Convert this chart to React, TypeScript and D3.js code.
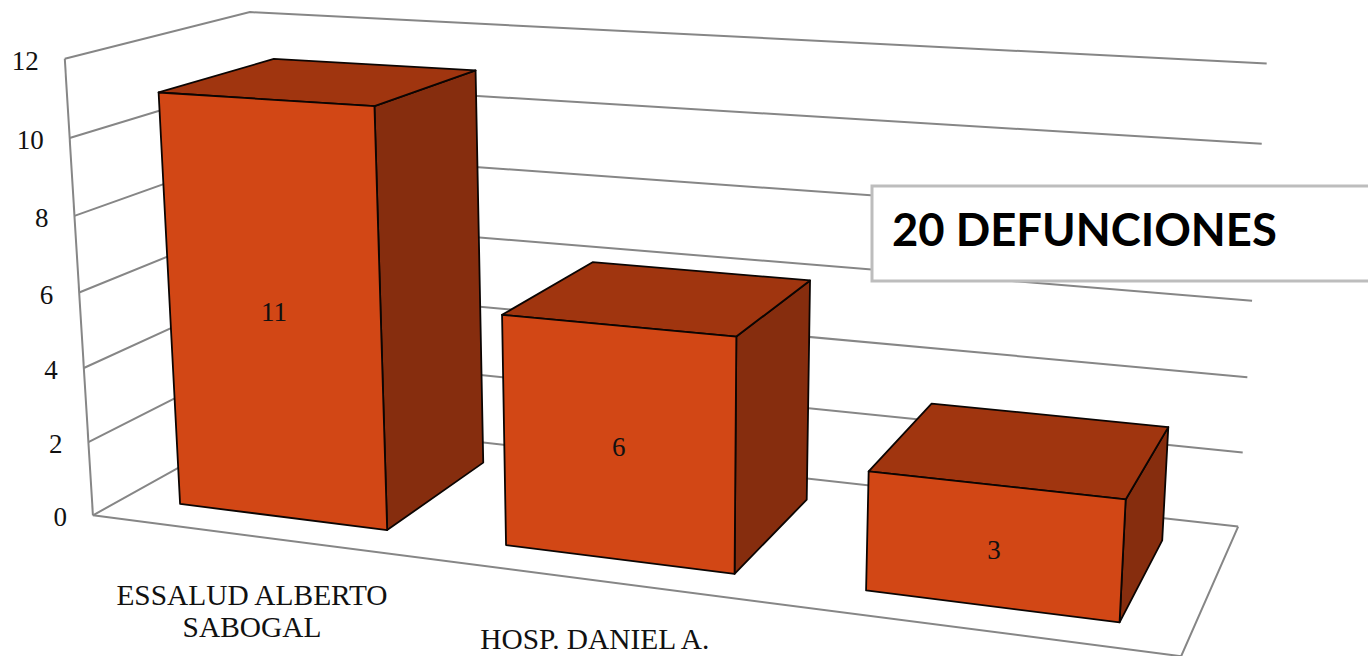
import React from "react";
import * as d3 from "d3";

const W = 1368, H = 656;

// Data
const categories = ["ESSALUD ALBERTO|SABOGAL", "HOSP. DANIEL A.", ""];
const values = [11, 6, 3];
const valueTicks = [0, 2, 4, 6, 8, 10, 12];
const boxLabel = "20 DEFUNCIONES";

// Camera calibration: (u across, v depth, t height) -> picture point
const calibration: number[][] = [
  [0, 0, 0, 93, 516], [0, 0, 1, 64, 60], [0, 0, 0.5, 80, 290],
  [0, 1, 0, 267, 419], [0, 1, 1, 250, 12],
  [1, 1, 0, 1238, 526], [1, 1, 1, 1267, 64], [1, 1, 0.5, 1252, 300],
  [1, 0, 0, 1181, 657],
];

function solve(A: number[][], b: number[]) {
  const n = b.length;
  const M = A.map((r, i) => [...r, b[i]]);
  for (let c = 0; c < n; c++) {
    let p = c;
    for (let r = c + 1; r < n; r++) if (Math.abs(M[r][c]) > Math.abs(M[p][c])) p = r;
    [M[c], M[p]] = [M[p], M[c]];
    for (let r = 0; r < n; r++) {
      if (r === c) continue;
      const f = M[r][c] / M[c][c];
      for (let k = c; k <= n; k++) M[r][k] -= f * M[c][k];
    }
  }
  return M.map((r, i) => r[n] / r[i]);
}

function fitCamera(pts: number[][]) {
  const rows: number[][] = [], rhs: number[] = [];
  const S = 1000;
  for (const [u, v, t, x0, y0] of pts) {
    const x = x0 / S, y = y0 / S;
    rows.push([u, v, t, 1, 0, 0, 0, 0, -x * u, -x * v, -x * t]); rhs.push(x);
    rows.push([0, 0, 0, 0, u, v, t, 1, -y * u, -y * v, -y * t]); rhs.push(y);
  }
  const n = 11;
  const AtA = d3.range(n).map(i => d3.range(n).map(j => d3.sum(rows, r => r[i] * r[j])));
  const Atb = d3.range(n).map(i => d3.sum(rows, (r, k) => r[i] * rhs[k]));
  const p = solve(AtA, Atb);
  return (u: number, v: number, t: number): [number, number] => {
    const w = p[8] * u + p[9] * v + p[10] * t + 1;
    return [
      (S * (p[0] * u + p[1] * v + p[2] * t + p[3])) / w,
      (S * (p[4] * u + p[5] * v + p[6] * t + p[7])) / w,
    ];
  };
}

const project = fitCamera(calibration);
const uScale = d3.scaleBand<string>().domain(categories).range([0, 1]).paddingInner(0.3535).paddingOuter(0.17675);
const tScale = d3.scaleLinear().domain([0, 12]).range([0, 1]);
const vFront = 0.17, vBack = 0.815;

const line = d3.line<[number, number]>();
const poly = (pts: [number, number][]) => line(pts)! + "Z";

const GRID = "#868686";
const EDGE = "#0b0503";
const FRONT = "#D24715";
const TOP = "#A0350F";
const SIDE = "#862D0E";
const SERIF = "'Liberation Serif', serif";

export default function App() {
  const grid = valueTicks.map(tick => {
    const t = tScale(tick);
    return line([project(0, 0, t), project(0, 1, t), project(1, 1, t)])!;
  });
  const floorEdge = line([project(0, 0, 0), project(1, 0, 0), project(1, 1, 0)])!;
  const axisEdge = line([project(0, 0, 0), project(0, 0, 1)])!;

  return (
    <svg width={W} height={H} style={{ position: "absolute", left: 0, top: 0, background: "#fff", display: "block" }}>
      <g fill="none" stroke={GRID} strokeWidth={2}>
        {grid.map((d, i) => <path key={i} d={d} />)}
        <path d={floorEdge} />
        <path d={axisEdge} />
      </g>
      {valueTicks.map(tick => {
        const [x, y] = project(0, 0, tScale(tick));
        return (
          <text key={tick} x={x - 26} y={y + 2} textAnchor="end" dominantBaseline="central"
            fontFamily={SERIF} fontSize={27} fill="#111">{tick}</text>
        );
      })}
      {categories.map((c, i) => {
        const u0 = uScale(c)!, u1 = u0 + uScale.bandwidth();
        const t = tScale(values[i]);
        const A = project(u0, vFront, 0), B = project(u1, vFront, 0);
        const C = project(u1, vFront, t), D = project(u0, vFront, t);
        const E = project(u1, vBack, 0), F = project(u1, vBack, t), G = project(u0, vBack, t);
        const cx = (A[0] + B[0] + C[0] + D[0]) / 4, cy = (A[1] + B[1] + C[1] + D[1]) / 4;
        return (
          <g key={i} stroke={EDGE} strokeWidth={1.8} strokeLinejoin="round">
            <path d={poly([B, E, F, C])} fill={SIDE} />
            <path d={poly([D, C, F, G])} fill={TOP} />
            <path d={poly([A, B, C, D])} fill={FRONT} />
            <text x={cx - 1} y={cy + 4} textAnchor="middle" dominantBaseline="central" stroke="none"
              fontFamily={SERIF} fontSize={27} fill="#111">{values[i]}</text>
          </g>
        );
      })}
      {categories.map((c, i) => {
        const [x, y] = project(uScale(c)! + uScale.bandwidth() / 2, 0, 0);
        return c.split("|").map((l, k) => (
          <text key={i + "-" + k} x={x} y={y + 69 + k * 32} textAnchor="middle"
            fontFamily={SERIF} fontSize={29.4} fill="#111">{l}</text>
        ));
      })}
      <rect x={872} y={186} width={520} height={95} fill="#fff" stroke="#bdbdbd" strokeWidth={3} />
      <text x={892} y={246} fontFamily="Lato, 'Open Sans', sans-serif" fontWeight={700} fontSize={45.4} fill="#000">{boxLabel}</text>
    </svg>
  );
}
